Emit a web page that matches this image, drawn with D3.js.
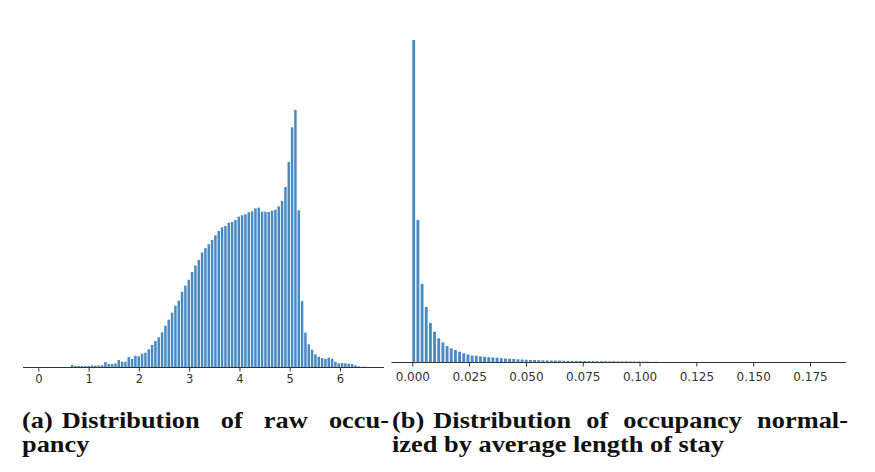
<!DOCTYPE html>
<html><head><meta charset="utf-8">
<script src="https://cdn.jsdelivr.net/npm/d3@7"></script>
<style>body{margin:0;background:#fff} svg{display:block}</style>
</head><body>
<svg id="c" width="875" height="472"></svg>
<script>
// ---------- data ----------
const rawBinStart = 0.05;
const rawBinWidth = 0.0663;
const rawCounts = [
  0,0,0,0,0,0,0,0,0,2,
  1,1,1,1,1,1.5,1.3,1.5,1.7,5,
  3,3,3.5,7,5.3,5.3,10,8,11.3,10.7,
  13.3,14.3,17.7,22,26,29.7,34.7,41.3,47.3,54.3,
  61.3,66.3,75.3,81.3,87.2,95,101.5,107,114.5,118.8,
  122.8,127,131.7,136,139.7,141,144.3,145,147,150.3,
  151.7,152.7,154.7,155.7,158.7,159.3,155.3,155.3,155,156.3,
  157.3,160.7,166,180,205,239.7,257,156.7,66,34.3,
  22.7,17.3,12.7,10.3,9,8.3,9.3,8.3,5.3,3.7,
  4,3.7,3.3,3,1.7,0.7,0.3,0.3,0,0
];
const rawTicks = [0,1,2,3,4,5,6];

const normBinStart = 0;
const normBinWidth = 0.001834;
const normCounts = [
  322,142,78,55,39,30.3,23.7,19.7,16,13.7,
  12,10.3,8.7,7.5,6.5,6.3,5.6,5.2,4.8,4.5,
  4.2,3.8,3.5,3.2,3.0,2.7,2.5,2.3,2.1,2.0,
  1.8,1.7,1.6,1.5,1.4,1.4,1.3,1.2,1.2,1.1,
  1.0,1.0,0.9,0.9,0.8,0.8,0.8,0.7,0.7,0.7,
  0.6,0.6,0.6,0.5,0.5,0.4,0.4,0.2,0.3,0,
  0,0,0,0,0,0,0,0,0,0,
  0,0,0,0,0,0,0,0,0,0,
  0,0,0,0,0,0,0,0,0,0,
  0,0,0,0,0,0,0,0,0,0
];
const normTicks = [0,0.025,0.05,0.075,0.1,0.125,0.15,0.175];

const captionA = [["(a)","Distribution","of","raw","occu-"], ["pancy"]];
const captionB = [["(b)","Distribution","of","occupancy","normal-"], ["ized by average length of stay"]];

// ---------- drawing ----------
const svg = d3.select("#c");
const barColor = "#4a8ac2";
const inkColor = "#333";

function histogram(opts) {
  const g = svg.append("g");
  const x = d3.scaleLinear().domain(opts.tickDomain).range(opts.tickRange);
  const maxV = d3.max(opts.counts);
  const y = d3.scaleLinear().domain([0, maxV]).range([opts.base, opts.top]);
  const bins = opts.counts.map((c, i) => ({x0: opts.start + i*opts.width, x1: opts.start + (i+1)*opts.width, c}));
  g.selectAll("rect").data(bins.filter(d => d.c > 0)).join("rect")
    .attr("x", d => x(d.x0))
    .attr("width", d => Math.max(0.3, x(d.x1) - x(d.x0) - opts.gap))
    .attr("y", d => y(d.c))
    .attr("height", d => opts.base - y(d.c))
    .attr("fill", barColor);
  g.append("line")
    .attr("x1", x(opts.axisDomain[0])).attr("x2", x(opts.axisDomain[1]))
    .attr("y1", opts.base + 0.5).attr("y2", opts.base + 0.5)
    .attr("stroke", inkColor).attr("stroke-width", 1.1);
  const axis = d3.axisBottom(x).tickValues(opts.ticks).tickFormat(opts.fmt)
    .tickSizeInner(4).tickSizeOuter(0).tickPadding(opts.pad);
  const ag = g.append("g").attr("transform", `translate(0,${opts.base + 0.5})`).call(axis);
  ag.select(".domain").remove();
  ag.selectAll(".tick line").attr("stroke", inkColor).attr("stroke-width", 1);
  ag.selectAll(".tick text").attr("fill", inkColor)
    .style("font-family", "DejaVu Sans").style("font-size", opts.fs + "px");
}

histogram({
  counts: rawCounts, start: rawBinStart, width: rawBinWidth,
  tickDomain: [0, 6], tickRange: [38.3, 340], axisDomain: [-0.304, 6.875],
  base: 367, top: 110, gap: 0.85, ticks: rawTicks, fmt: d3.format("d"), pad: 3.5, fs: 11.5
});
histogram({
  counts: normCounts, start: normBinStart, width: normBinWidth,
  tickDomain: [0, 0.175], tickRange: [412.3, 810], axisDomain: [-0.00917, 0.1908],
  base: 362, top: 40, gap: 1.3, ticks: normTicks, fmt: d3.format(".3f"), pad: 5.5, fs: 12
});

// ---------- captions ----------
const capFont = {family: "Liberation Serif", size: 24, weight: "bold"};
const meas = svg.append("text").style("font-family", capFont.family)
  .style("font-size", capFont.size + "px").style("font-weight", capFont.weight);
function measure(s) { meas.text(s); return meas.node().getComputedTextLength(); }
const sx = 332 / measure(captionB[1][0]);

function word(s, x, y) {
  svg.append("text").attr("transform", `translate(${x},${y}) scale(${sx},1)`)
    .style("font-family", capFont.family).style("font-size", capFont.size + "px")
    .style("font-weight", capFont.weight).attr("fill", "#111").text(s);
}
function justified(words, x0, x1, y, labelGap) {
  const ws = words.map(w => measure(w) * sx);
  const rest = ws.slice(1).reduce((a, b) => a + b, 0);
  const gap = (x1 - x0 - ws[0] - labelGap - rest) / (words.length - 2);
  let x = x0;
  words.forEach((w, i) => {
    word(w, x, y);
    x += ws[i] + (i === 0 ? labelGap : gap);
  });
}
justified(captionA[0], 22, 389, 428, 9);
justified(captionB[0], 392, 848, 428, 9);
word(captionA[1][0], 22, 452);
word(captionB[1][0], 392, 452);
meas.remove();
</script>
</body></html>
